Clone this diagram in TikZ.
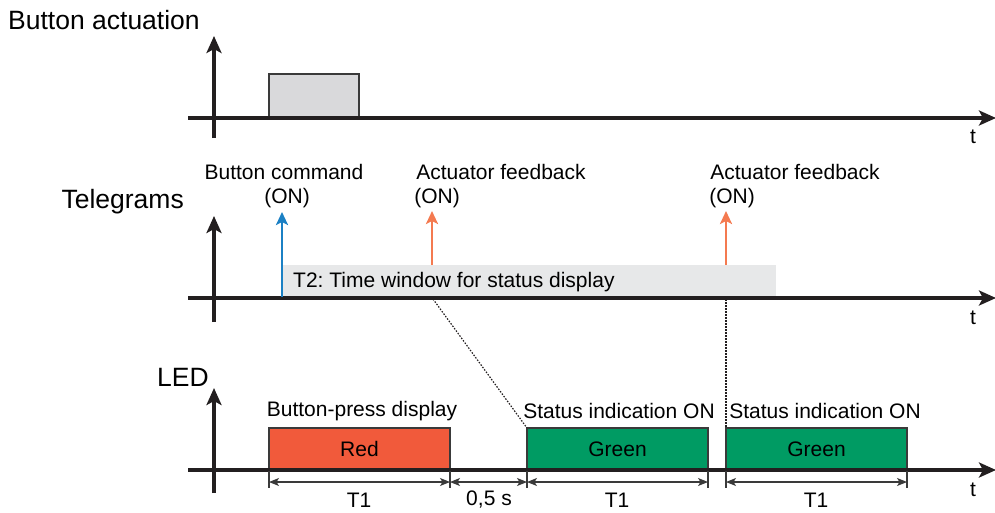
\documentclass[tikz,border=0pt]{standalone}
\usepackage{fontspec}
\setmainfont{Liberation Sans}
\usetikzlibrary{arrows.meta}
\frenchspacing
\definecolor{axisc}{HTML}{231F20}
\definecolor{pressc}{HTML}{D9D9DB}
\definecolor{bandc}{HTML}{E7E8E9}
\definecolor{bluec}{HTML}{1B80C4}
\definecolor{orangec}{HTML}{F47A50}
\definecolor{redc}{HTML}{F15A3B}
\definecolor{greenc}{HTML}{009B63}
\definecolor{edgec}{HTML}{3A3A3A}
\tikzset{
  axis/.style={draw=axisc, line width=3.2pt, -{Stealth[length=17pt,width=15pt,inset=4pt]}},
  pulse/.style={draw=edgec, line width=1.4pt, inner sep=0pt, outer sep=0pt, anchor=south west},
  tel/.style={line width=2.6pt},
  dim/.style={draw=edgec, line width=1.1pt, {Stealth[length=10pt,width=8pt,inset=2.5pt]}-{Stealth[length=10pt,width=8pt,inset=2.5pt]}},
  tick/.style={draw=edgec, line width=1.1pt},
  big/.style={font=\fontsize{26.5}{30}\selectfont, inner sep=0pt},
  lab/.style={font=\fontsize{21}{25}\selectfont, inner sep=0pt},
  guide/.style={draw=axisc, line width=1.2pt, dash pattern=on 1.5pt off 1.5pt},
}
\begin{document}
\begin{tikzpicture}[x=1pt,y=-1pt]
\useasboundingbox (0,0) rectangle (995,512);
% ---------- Panel 1: Button actuation
\node[big, anchor=west] (t1title) at (8,20) {Button actuation};
\coordinate (a1s) at (188,118); \coordinate (a1e) at (996,118);
\coordinate (v1s) at (214,138); \coordinate (v1e) at (214,36);
\node[pulse, fill=pressc, minimum width=90pt, minimum height=44pt] (press) at (269,118) {};
\draw[axis] (a1s) -- (a1e);
\draw[axis] (v1s) -- (v1e);
\node[lab] (tlab1) at (973,137) {t};
% ---------- Panel 2: Telegrams
\node[big, anchor=east] (t2title) at (184,202) {Telegrams};
\node[fill=bandc, anchor=north west, minimum width=494pt, minimum height=32pt, inner sep=0pt] (band) at (282,265) {};
\node[lab, anchor=west] (bandtxt) at (293,282) {T2: Time window for status display};
\coordinate (a2s) at (188,298); \coordinate (a2e) at (996,298);
\coordinate (v2s) at (214,322); \coordinate (v2e) at (214,216);
\draw[axis] (a2s) -- (a2e);
\draw[axis] (v2s) -- (v2e);
\node[lab] (tlab2) at (973,318) {t};
\coordinate (bc0) at (282,297); \coordinate (bc1) at (282,212);
\coordinate (fa0) at (432,265); \coordinate (fa1) at (432,211);
\coordinate (fb0) at (726,265); \coordinate (fb1) at (726,211);
\draw[tel, draw=bluec, -{Stealth[length=13pt,width=12pt,inset=3pt,fill=bluec]}] (bc0) -- (bc1);
\draw[tel, draw=orangec, -{Stealth[length=13pt,width=12pt,inset=3pt,fill=orangec]}] (fa0) -- (fa1);
\draw[tel, draw=orangec, -{Stealth[length=13pt,width=12pt,inset=3pt,fill=orangec]}] (fb0) -- (fb1);
\node[lab] (bcl1) at (284,172) {Button command};
\node[lab] (bcl2) at (287,198) {(ON)};
\node[lab] (fal1) at (501,172) {Actuator feedback};
\node[lab] (fal2) at (437,198) {(ON)};
\node[lab] (fbl1) at (795,172) {Actuator feedback};
\node[lab] (fbl2) at (732,198) {(ON)};
% ---------- Panel 3: LED
\node[big, anchor=west] (t3title) at (157,377) {LED};
\node[pulse, fill=redc, minimum width=181pt, minimum height=42pt] (red) at (269,470) {};
\node[pulse, fill=greenc, minimum width=181pt, minimum height=42pt] (g1) at (527,470) {};
\node[pulse, fill=greenc, minimum width=181pt, minimum height=42pt] (g2) at (726,470) {};
\node[lab] at (red.center) {Red};
\node[lab] at (g1.center) {Green};
\node[lab] at (g2.center) {Green};
\node[lab] (redl) at (362,411) {Button-press display};
\node[lab] (g1l) at (619,411) {Status indication ON};
\node[lab] (g2l) at (825,411) {Status indication ON};
\coordinate (a3s) at (188,470); \coordinate (a3e) at (996,470);
\coordinate (v3s) at (214,493); \coordinate (v3e) at (214,388);
\draw[axis] (a3s) -- (a3e);
\draw[axis] (v3s) -- (v3e);
\node[lab] (tlab3) at (973,490) {t};
% guides
\coordinate (gd1) at (433,299); \coordinate (gd2) at (726,299);
\draw[guide] (gd1) -- (g1.north west);
\draw[guide] (gd2) -- (g2.north west);
% dimensions
\foreach \x in {269,450,527,708,726,907} \draw[tick] (\x,471) -- (\x,488);
\draw[dim] (269,482) -- (450,482);
\draw[dim] (450,482) -- (527,482);
\draw[dim] (527,482) -- (708,482);
\draw[dim] (726,482) -- (907,482);
\node[lab] (d1) at (359,500) {T1};
\node[lab] (d2) at (489,500) {0,5 s};
\node[lab] (d3) at (617,500) {T1};
\node[lab] (d4) at (816,500) {T1};
\end{tikzpicture}
\end{document}
